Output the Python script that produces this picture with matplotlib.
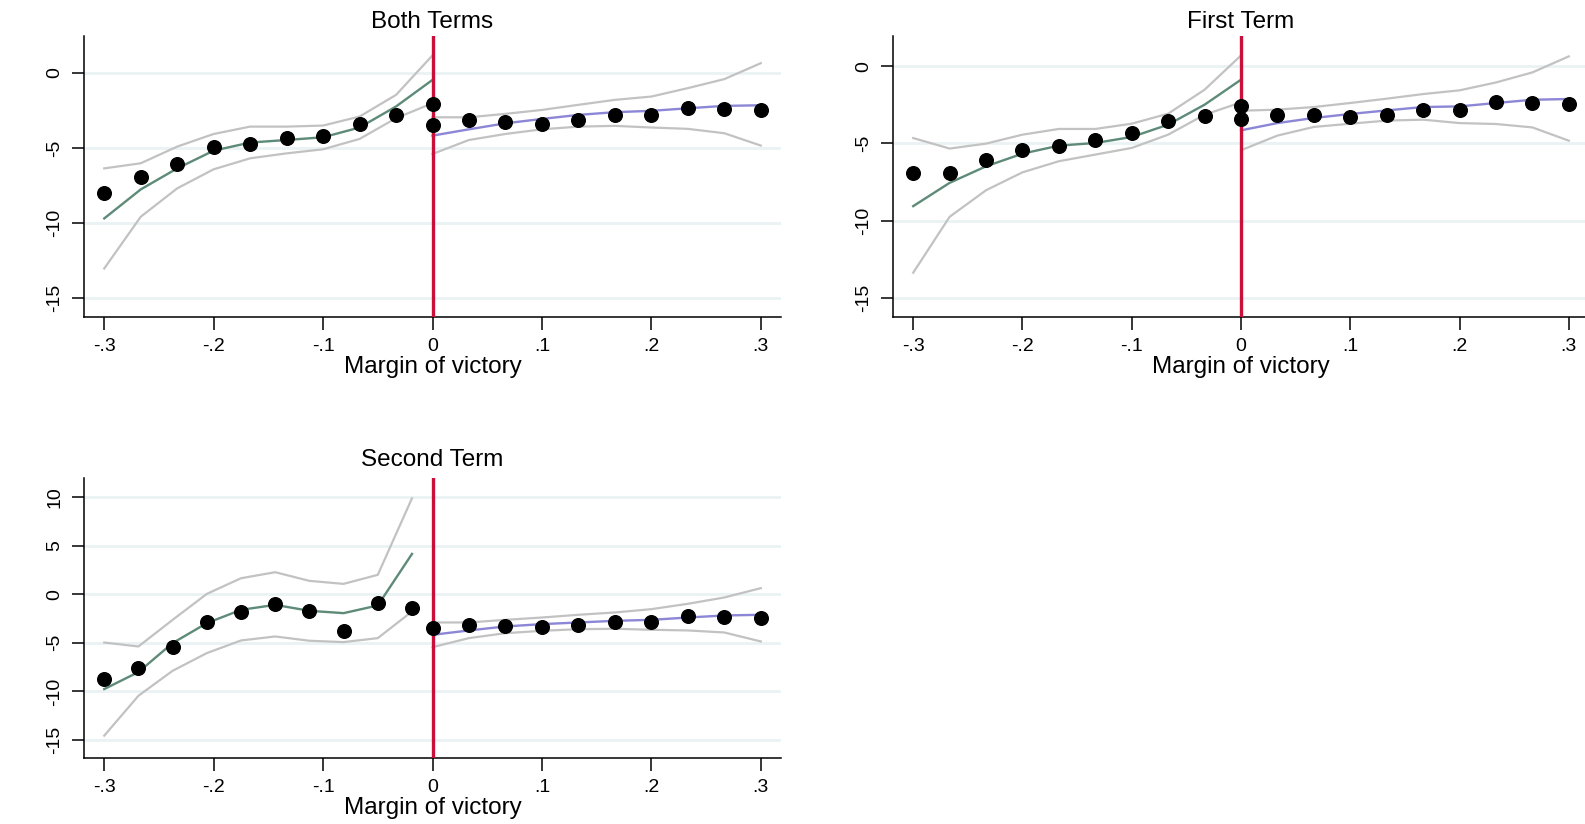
import numpy as np
import matplotlib
matplotlib.use('Agg')
import matplotlib.pyplot as plt

plt.rcParams['font.family'] = ['Liberation Sans', 'DejaVu Sans']

# bin centres
x_left = np.linspace(-0.3, 0.0, 10)
x_left_2nd = -0.3 + np.arange(10) * 0.03125
x_right = np.linspace(0.0, 0.3, 10)

# ---- Both Terms
both_dots_l = [-8.02, -6.96, -6.07, -4.96, -4.76, -4.31, -4.22, -3.42, -2.84, -2.09]
both_fit_l = [-9.69, -7.76, -6.36, -5.18, -4.64, -4.47, -4.29, -3.64, -2.24, -0.47]
both_hi_l = [-6.36, -6.02, -4.91, -4.07, -3.58, -3.58, -3.51, -2.91, -1.47, 1.16]
both_lo_l = [-13.02, -9.58, -7.69, -6.42, -5.69, -5.36, -5.09, -4.40, -3.02, -2.02]
both_dots_r = [-3.49, -3.13, -3.27, -3.40, -3.13, -2.80, -2.80, -2.36, -2.40, -2.47]
both_fit_r = [-4.18, -3.76, -3.36, -3.07, -2.80, -2.62, -2.53, -2.36, -2.20, -2.16]
both_hi_r = [-2.96, -2.96, -2.73, -2.47, -2.13, -1.80, -1.58, -1.02, -0.42, 0.64]
both_lo_r = [-5.40, -4.47, -4.07, -3.76, -3.58, -3.53, -3.64, -3.73, -4.02, -4.84]

# ---- First Term
first_dots_l = [-6.92, -6.92, -6.06, -5.45, -5.15, -4.76, -4.33, -3.53, -3.21, -2.56]
first_fit_l = [-9.07, -7.56, -6.49, -5.67, -5.15, -4.98, -4.59, -3.79, -2.50, -0.88]
first_hi_l = [-4.66, -5.34, -5.02, -4.44, -4.07, -4.07, -3.73, -3.08, -1.53, 0.69]
first_lo_l = [-13.38, -9.76, -8.04, -6.88, -6.16, -5.73, -5.30, -4.44, -3.15, -2.35]
first_dots_r = [-3.43, -3.19, -3.19, -3.30, -3.15, -2.82, -2.82, -2.35, -2.39, -2.46]
first_fit_r = [-4.16, -3.69, -3.36, -3.10, -2.87, -2.65, -2.61, -2.39, -2.18, -2.13]
first_hi_r = [-2.89, -2.82, -2.65, -2.39, -2.11, -1.81, -1.57, -1.06, -0.41, 0.63]
first_lo_r = [-5.45, -4.50, -3.94, -3.73, -3.53, -3.47, -3.69, -3.75, -3.97, -4.83]

# ---- Second Term
second_dots_l = [-8.70, -7.60, -5.48, -2.91, -1.88, -1.03, -1.78, -3.77, -0.86, -1.44]
second_fit_l = [-9.76, -8.01, -5.03, -2.98, -1.61, -1.10, -1.71, -1.95, -1.16, 4.14]
second_hi_l = [-4.97, -5.38, -2.64, 0.03, 1.64, 2.26, 1.37, 1.06, 1.99, 9.86]
second_lo_l = [-14.55, -10.45, -7.88, -6.06, -4.76, -4.35, -4.79, -4.93, -4.52, -1.78]
second_dots_r = [-3.49, -3.22, -3.32, -3.39, -3.15, -2.81, -2.81, -2.29, -2.36, -2.40]
second_fit_r = [-4.18, -3.73, -3.32, -3.08, -2.91, -2.74, -2.64, -2.40, -2.19, -2.12]
second_hi_r = [-2.91, -2.91, -2.64, -2.40, -2.12, -1.88, -1.54, -0.99, -0.34, 0.62]
second_lo_r = [-5.45, -4.52, -4.01, -3.77, -3.60, -3.56, -3.66, -3.73, -3.94, -4.86]

x_ticks = [-0.3, -0.2, -0.1, 0.0, 0.1, 0.2, 0.3]
x_ticklabels = ['-.3', '-.2', '-.1', '0', '.1', '.2', '.3']

RED = '#C8103A'
GREEN = '#5E8A78'
PURPLE = '#8C86D6'
GRAY = '#C2C2C2'
GRID = '#EAF2F3'


def draw_panel(ax, title, xl, dl, fl, hl, ll, dr, fr, hr, lr, yticks, ylim, tpad):
    ax.set_xlim(-0.3185, 0.3185)
    ax.set_ylim(*ylim)
    for yt in yticks:
        ax.axhline(yt, color=GRID, lw=2, zorder=0)
    ax.plot(xl, hl, color=GRAY, lw=1.6, zorder=2)
    ax.plot(xl, ll, color=GRAY, lw=1.6, zorder=2)
    ax.plot(x_right, hr, color=GRAY, lw=1.6, zorder=2)
    ax.plot(x_right, lr, color=GRAY, lw=1.6, zorder=2)
    ax.plot(xl, fl, color=GREEN, lw=1.7, zorder=3)
    ax.plot(x_right, fr, color=PURPLE, lw=1.7, zorder=3)
    ax.axvline(0, color=RED, lw=2.4, zorder=4)
    ax.plot(xl, dl, 'o', color='black', ms=9.8, zorder=5)
    ax.plot(x_right, dr, 'o', color='black', ms=9.8, zorder=5)

    ax.set_xticks(x_ticks)
    ax.set_xticklabels(x_ticklabels)
    ax.set_yticks(yticks)
    ax.set_yticklabels([str(v) for v in yticks], rotation=90, va='center')
    ax.tick_params(axis='both', labelsize=14, length=9, width=1.1, pad=6)
    ax.spines['top'].set_visible(False)
    ax.spines['right'].set_visible(False)
    ax.spines['left'].set_linewidth(1.1)
    ax.spines['bottom'].set_linewidth(1.1)
    ax.set_title(title, fontsize=17.5, pad=tpad)
    ax.set_xlabel('Margin of victory', fontsize=17.5, labelpad=1)


fig = plt.figure(figsize=(15.85, 8.24), dpi=100)
W, H = 1585.0, 824.0
ax1 = fig.add_axes([84 / W, 1 - 317 / H, 697 / W, 281 / H])
ax2 = fig.add_axes([893 / W, 1 - 317 / H, 696 / W, 281 / H])
ax3 = fig.add_axes([84 / W, 1 - 758 / H, 697 / W, 280 / H])

draw_panel(ax1, 'Both Terms', x_left, both_dots_l, both_fit_l, both_hi_l, both_lo_l,
           both_dots_r, both_fit_r, both_hi_r, both_lo_r,
           [0, -5, -10, -15], (-16.25, 2.45), 6)
draw_panel(ax2, 'First Term', x_left, first_dots_l, first_fit_l, first_hi_l, first_lo_l,
           first_dots_r, first_fit_r, first_hi_r, first_lo_r,
           [0, -5, -10, -15], (-16.25, 1.95), 6)
draw_panel(ax3, 'Second Term', x_left_2nd, second_dots_l, second_fit_l, second_hi_l, second_lo_l,
           second_dots_r, second_fit_r, second_hi_r, second_lo_r,
           [10, 5, 0, -5, -10, -15], (-16.85, 11.95), 9)

fig.savefig('out.png', dpi=100)
